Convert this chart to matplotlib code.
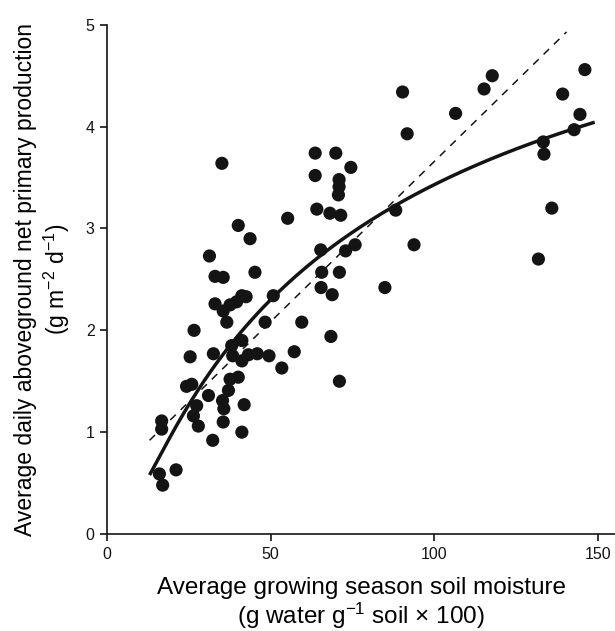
import matplotlib
matplotlib.use("Agg")
import matplotlib.pyplot as plt
import numpy as np

plt.rcParams['font.family'] = ['Liberation Sans', 'DejaVu Sans']
plt.rcParams['mathtext.fontset'] = 'custom'
plt.rcParams['mathtext.rm'] = 'Liberation Sans'
plt.rcParams['mathtext.it'] = 'Liberation Sans:italic'
plt.rcParams['mathtext.default'] = 'regular'

# Scatter observations: soil moisture (x) vs ANPP (y)
soil_moisture = [
    35.1, 40.1, 43.7, 31.3, 33.0, 35.5, 45.2, 55.2,
    33.0, 35.5, 37.6, 39.6, 41.2, 42.5, 36.6, 50.8, 48.3, 59.5,
    26.6, 25.4, 32.5, 38.1, 41.2, 38.4, 41.2, 43.2, 45.9, 49.5, 57.2, 53.4,
    24.3, 25.9, 31.0, 37.6, 40.1, 37.1, 27.4, 35.3, 35.7, 41.9,
    26.4, 27.9, 35.5, 41.2, 32.3, 16.7, 16.7, 21.1, 16.0, 17.0,
    63.6, 69.9, 74.5, 63.6, 70.9, 70.9, 70.7, 64.1, 68.1, 71.4,
    88.2, 65.3, 72.9, 75.8, 65.6, 71.0, 65.4, 68.8, 84.9, 68.4, 71.0,
    90.3, 91.7, 106.5, 115.2, 117.7, 146.0, 139.2, 144.5, 142.7,
    133.3, 133.5, 135.9, 131.8, 93.8,
]
anpp = [
    3.64, 3.03, 2.90, 2.73, 2.53, 2.52, 2.57, 3.10,
    2.26, 2.19, 2.25, 2.28, 2.34, 2.33, 2.08, 2.34, 2.08, 2.08,
    2.00, 1.74, 1.77, 1.85, 1.90, 1.75, 1.70, 1.76, 1.77, 1.75, 1.79, 1.63,
    1.45, 1.47, 1.36, 1.52, 1.54, 1.41, 1.26, 1.31, 1.23, 1.27,
    1.16, 1.06, 1.10, 1.00, 0.92, 1.11, 1.03, 0.63, 0.59, 0.48,
    3.74, 3.74, 3.60, 3.52, 3.48, 3.41, 3.33, 3.19, 3.15, 3.13,
    3.18, 2.79, 2.78, 2.84, 2.57, 2.57, 2.42, 2.35, 2.42, 1.94, 1.50,
    4.34, 3.93, 4.13, 4.37, 4.50, 4.56, 4.32, 4.12, 3.97,
    3.85, 3.73, 3.20, 2.70, 2.84,
]

# Fitted curve
curve_x = [13, 23, 33.5, 43.7, 54, 64, 74, 86, 100, 117, 133, 149]
curve_y = [0.58, 1.16, 1.68, 2.09, 2.41, 2.71, 2.96, 3.18, 3.42, 3.68, 3.87, 4.05]

# Dashed reference line endpoints
dash_x = [13, 140.4]
dash_y = [0.92, 4.93]

x_ticks = [0, 50, 100, 150]
y_ticks = [0, 1, 2, 3, 4, 5]

fig = plt.figure(figsize=(6.15, 6.31), dpi=100)
ax = fig.add_axes([0.174, 0.1537, 0.826, 0.807])

ax.scatter(soil_moisture, anpp, s=90, color='#141414', edgecolors='none', zorder=3)

# smooth rendering of the read curve
coef = np.polyfit(np.log(curve_x), curve_y, 3)
xs = np.linspace(min(curve_x), max(curve_x), 200)
ax.plot(xs, np.polyval(coef, np.log(xs)), color='#141414', lw=2.5,
        solid_capstyle='butt', zorder=4)
ax.plot(dash_x, dash_y, color='#141414', lw=1.1, linestyle=(0, (5, 4.5)), zorder=2)

ax.set_xlim(0, 155.2)
ax.set_ylim(0, 5)
ax.set_xticks(x_ticks)
ax.set_yticks(y_ticks)
for s in ['top', 'right']:
    ax.spines[s].set_visible(False)
for s in ['left', 'bottom']:
    ax.spines[s].set_linewidth(1.2)
    ax.spines[s].set_color('#141414')
ax.tick_params(direction='out', length=5, width=1.2, labelsize=11.5, colors='#141414', pad=4)

ax.set_xlabel('Average growing season soil moisture\n(g water g$^{-1}$ soil \u00d7 100)',
              fontsize=17.5, linespacing=1.1, labelpad=11)
ax.set_ylabel('Average daily aboveground net primary production\n(g m$^{-2}$ d$^{-1}$)',
              fontsize=16.5, linespacing=1.2, labelpad=10)

fig.savefig('out.png', dpi=100)
